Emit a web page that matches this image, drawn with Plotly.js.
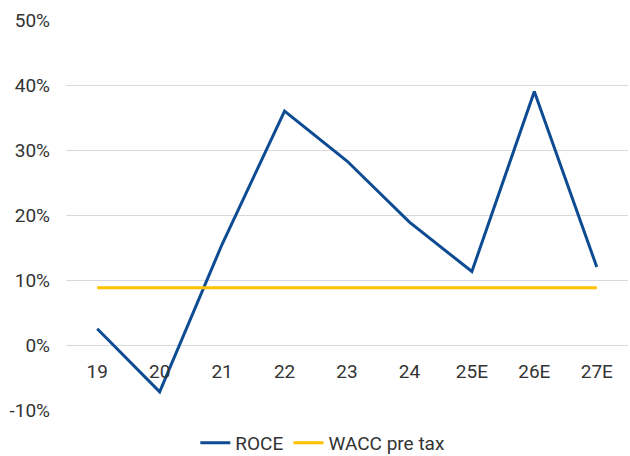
<!DOCTYPE html>
<html>
<head>
<meta charset="utf-8">
<script src="https://cdn.plot.ly/plotly-3.0.1.min.js"></script>
<style>html,body{margin:0;padding:0;background:#fff;}#chart{width:630px;height:456px;}</style>
</head>
<body>
<div id="chart"></div>
<script>
const categories = ["19","20","21","22","23","24","25E","26E","27E"];
const roce = [2.5, -7.2, 15.5, 36.0, 28.3, 18.9, 11.3, 39.0, 12.0];
const wacc = [8.8, 8.8, 8.8, 8.8, 8.8, 8.8, 8.8, 8.8, 8.8];
const yTicks = [-10, 0, 10, 20, 30, 40, 50];
const yTickText = ["-10%", "0%", "10%", "20%", "30%", "40%", "50%"];

const traces = [
  {x: categories, y: roce, name: "ROCE", type: "scatter", mode: "lines",
   line: {color: "#0D4C92", width: 3}},
  {x: categories, y: wacc, name: "WACC pre tax", type: "scatter", mode: "lines",
   line: {color: "#FFC000", width: 3}}
];

const layout = {
  width: 630, height: 456,
  margin: {l: 66, r: 2, t: 20, b: 46},
  paper_bgcolor: "#fff", plot_bgcolor: "#fff",
  font: {family: "Roboto, sans-serif", size: 19, color: "#333333"},
  showlegend: true,
  legend: {orientation: "h", x: 0.457, xanchor: "center",
           yref: "container", y: 0.0285, yanchor: "middle",
           font: {size: 19, color: "#333333"}, itemwidth: 30, tracegroupgap: 0},
  xaxis: {type: "category", range: [-0.5, 8.5], anchor: "free", position: 1/6,
          showgrid: false, showline: false, zeroline: false, ticks: "",
          ticklabelstandoff: 13, tickfont: {size: 19, color: "#333333"}},
  yaxis: {range: [-10, 50], tickvals: yTicks, ticktext: yTickText,
          showgrid: true, gridcolor: "#d9d9d9", gridwidth: 1,
          zeroline: true, zerolinecolor: "#d9d9d9", zerolinewidth: 1,
          showline: false, ticks: "", ticklabelstandoff: 15,
          tickfont: {size: 19, color: "#333333"}}
};

Plotly.newPlot("chart", traces, layout, {displayModeBar: false, staticPlot: true});
</script>
</body>
</html>
